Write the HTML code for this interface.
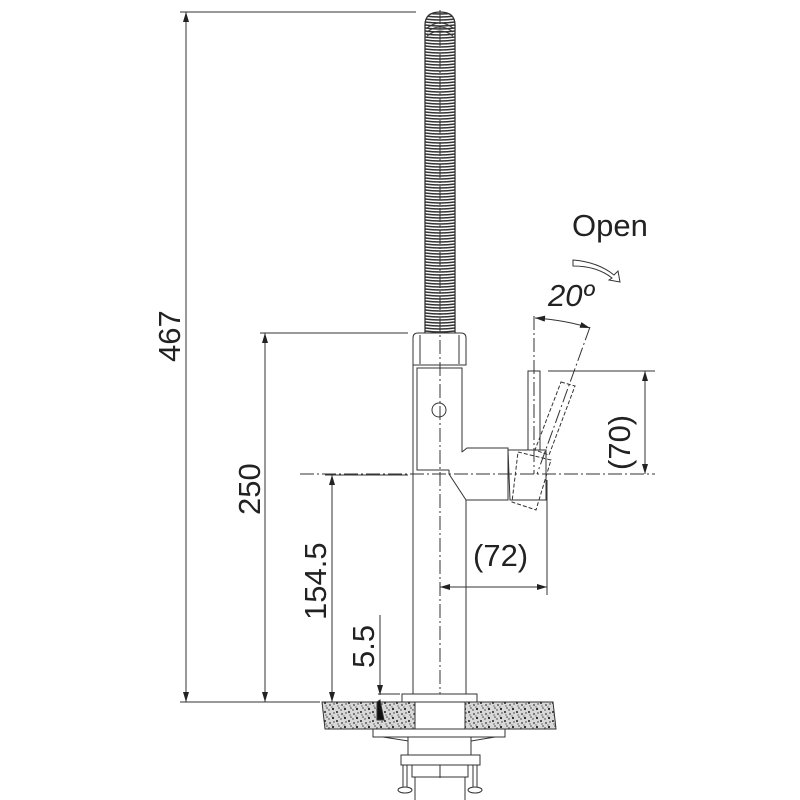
<!DOCTYPE html>
<html><head><meta charset="utf-8"><style>
html,body{margin:0;padding:0;background:#fff}
svg{display:block}
text{font-family:"Liberation Sans",sans-serif;fill:#222}
</style></head><body>
<svg width="800" height="800" viewBox="0 0 800 800" xmlns="http://www.w3.org/2000/svg">
<defs>
<pattern id="gr" width="12" height="9" patternUnits="userSpaceOnUse">
<rect width="12" height="9" fill="#d8d8d8"/>
<circle cx="1" cy="1" r="1" fill="#222"/><circle cx="6" cy="3" r="0.9" fill="#333"/>
<circle cx="9" cy="7" r="1.1" fill="#222"/><circle cx="3" cy="6" r="0.8" fill="#444"/>
<circle cx="10" cy="2" r="0.7" fill="#333"/><circle cx="5" cy="8" r="0.7" fill="#333"/>
<circle cx="8" cy="5" r="0.6" fill="#555"/><circle cx="2" cy="4" r="0.6" fill="#333"/>
</pattern>
<pattern id="coil" width="30" height="3" patternUnits="userSpaceOnUse" x="425" y="0">
<rect width="30" height="3" fill="#fff"/>
<path d="M0 1 Q15 3 30 1" stroke="#333" stroke-width="1.4" fill="none"/>
</pattern>
<marker id="a" viewBox="0 0 10 6" refX="10" refY="3" markerWidth="11" markerHeight="6" orient="auto-start-reverse" markerUnits="userSpaceOnUse"><path d="M0 0L10 3L0 6z" fill="#222"/></marker>
</defs>
<g stroke="#333" stroke-width="1" fill="none">
<line x1="180" y1="12" x2="416" y2="12"/>
<line x1="260" y1="333" x2="408" y2="333"/>
<line x1="180" y1="702" x2="320" y2="702"/>
<line x1="325" y1="475" x2="408" y2="475"/>
<line x1="186" y1="12" x2="186" y2="702" marker-start="url(#a)" marker-end="url(#a)"/>
<line x1="265" y1="333" x2="265" y2="702" marker-start="url(#a)" marker-end="url(#a)"/>
<line x1="332" y1="475" x2="332" y2="702" marker-start="url(#a)" marker-end="url(#a)"/>
<line x1="380" y1="615" x2="380" y2="695" marker-end="url(#a)"/>
<line x1="378" y1="694" x2="400" y2="694"/>
<path d="M425 333 V25 Q425 12 440 12 Q455 12 455 25 V333" fill="url(#coil)" stroke="#333" stroke-width="1.3"/>
<path d="M427 28 Q440 18 453 28 M427 32 Q440 22 453 32 M427 36 Q440 26 453 36" stroke="#333"/>
<path d="M413 338 Q413 333 418 333 H461 Q466 333 466 338 V365 H413 Z" fill="#fff"/>
<line x1="420" y1="335" x2="420" y2="364"/><line x1="459" y1="335" x2="459" y2="364"/>
<rect x="417" y="368" width="45" height="102" fill="#fff"/>
<circle cx="439" cy="410" r="7"/>
<line x1="413" y1="470" x2="413" y2="694"/><line x1="466" y1="500" x2="466" y2="694"/>
<line x1="413" y1="365" x2="413" y2="470"/>
<path d="M462 452 L467 448 H508 V500 H466 L449 474 V470" fill="#fff"/>
<rect x="528" y="371" width="12" height="79" fill="#fff"/>
<path d="M508 450 H546 V500 H510 Z" fill="#fff"/>
<path d="M518 452 L551 460 L536 510 L512 502 Z" stroke-dasharray="4 2"/>
<path d="M561 382 L575 386 L549 455 L535 450 Z" stroke-dasharray="4 2"/>
<line x1="440" y1="10" x2="440" y2="700" stroke-dasharray="14 3 2 3"/>
<line x1="300" y1="474" x2="655" y2="474" stroke-dasharray="14 3 2 3"/>
<line x1="534" y1="316" x2="534" y2="474" stroke-dasharray="14 3 2 3"/>
<line x1="590" y1="327" x2="537" y2="474" stroke-dasharray="14 3 2 3"/>
<path d="M535 318 Q565 320 590 328" marker-start="url(#a)" marker-end="url(#a)"/>
<path d="M573 260 Q598 262 614 275 L618 271 L620 282 L609 280 L612 278 Q597 266 573 266 Z" fill="#fff"/>
<line x1="548" y1="371" x2="655" y2="371"/>
<line x1="645" y1="371" x2="645" y2="474" marker-start="url(#a)" marker-end="url(#a)"/>
<line x1="547" y1="480" x2="547" y2="595"/>
<line x1="440" y1="587" x2="547" y2="587" marker-start="url(#a)" marker-end="url(#a)"/>
<path d="M322 702 H415 V729 H325 Z" fill="url(#gr)"/>
<path d="M465 702 H553 L556 729 H465 Z" fill="url(#gr)"/>
<path d="M377 702 L380 700 L384 720 L377 720 Z" fill="#111"/>
<rect x="402" y="694" width="75" height="8" fill="#fff"/>
<rect x="373" y="729" width="132" height="8" fill="#fff"/>
<path d="M383 737 L415 742 V746"/><path d="M495 737 L465 742 V746"/>
<rect x="408" y="737" width="63" height="19" fill="#fff"/>
<rect x="401" y="755" width="79" height="10" fill="#fff"/>
<line x1="403" y1="765" x2="403" y2="788"/><line x1="407" y1="765" x2="407" y2="788"/>
<line x1="473" y1="765" x2="473" y2="788"/><line x1="477" y1="765" x2="477" y2="788"/>
<ellipse cx="405" cy="790" rx="7" ry="3" fill="#fff"/><ellipse cx="475" cy="790" rx="7" ry="3" fill="#fff"/>
<rect x="412" y="765" width="56" height="12" fill="#fff"/>
<path d="M415 777 V800 M465 777 V800 M440 765 V778"/>
</g>
<g font-size="31">
<text transform="translate(180 362) rotate(-90)">467</text>
<text transform="translate(260 515) rotate(-90)">250</text>
<text transform="translate(326 620) rotate(-90)">154.5</text>
<text transform="translate(374 668) rotate(-90)">5.5</text>
<text transform="translate(630 470) rotate(-90)">(70)</text>
<text x="473" y="566">(72)</text>
<text x="572" y="236">Open</text>
<text x="548" y="306" font-style="italic">20º</text>
</g>
</svg>
</body></html>
